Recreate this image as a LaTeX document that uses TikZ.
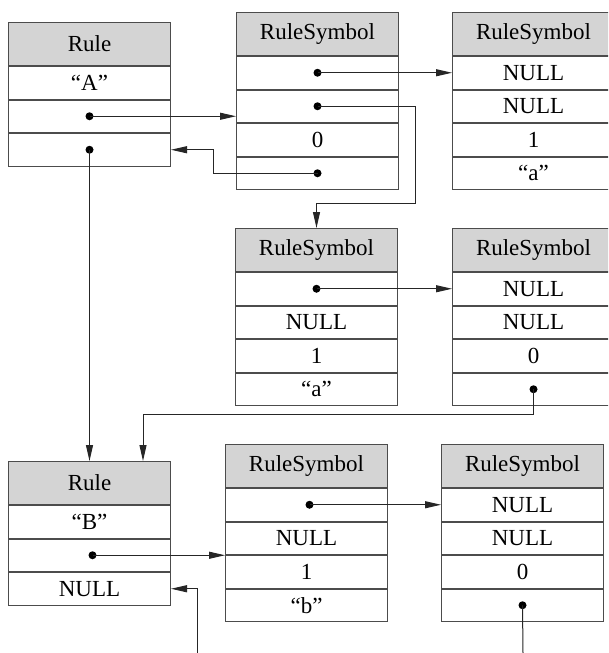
\documentclass[tikz,border=0pt]{standalone}
\usepackage{fontspec}
\setmainfont{Liberation Serif}
\usetikzlibrary{arrows.meta,calc}
\tikzset{
  cellbox/.style={draw=black!70, line width=1pt, minimum width=162pt, minimum height=32.5pt,
    inner sep=0pt, font=\fontsize{23}{25}\selectfont, anchor=north},
  hdrbox/.style={cellbox, fill=black!17, minimum height=43pt},
  dotn/.style={circle, fill=black, inner sep=0pt, minimum size=8pt},
  arr/.style={draw=black!85, line width=1pt, -{Triangle[length=16pt,width=7pt]}},
  wire/.style={draw=black!85, line width=1pt},
}
\newcommand\rulebx[7]{%
  \node[hdrbox, anchor=north west] (#1h) at (#2,#3) {#4};
  \node[cellbox] (#1a) at (#1h.south) {#5};
  \node[cellbox] (#1b) at (#1a.south) {#6};
  \node[cellbox] (#1c) at (#1b.south) {#7};
}
\newcommand\symbx[8]{%
  \node[hdrbox, anchor=north west] (#1h) at (#2,#3) {#4};
  \node[cellbox] (#1a) at (#1h.south) {#5};
  \node[cellbox] (#1b) at (#1a.south) {#6};
  \node[cellbox] (#1c) at (#1b.south) {#7};
  \node[cellbox] (#1d) at (#1c.south) {#8};
}
\begin{document}
\begin{tikzpicture}[x=1pt,y=-1pt]
\useasboundingbox (0,0) rectangle (608,653);
\clip (0,0) rectangle (608,653);
\fill[white] (0,0) rectangle (608,653);

\rulebx{RA}{8}{22}{Rule}{“A”}{}{}
\symbx{SA}{236}{12}{RuleSymbol}{}{}{0}{}
\symbx{SB}{452}{12}{RuleSymbol}{NULL}{NULL}{1}{“a”}
\symbx{SC}{235}{228}{RuleSymbol}{}{NULL}{1}{“a”}
\symbx{SD}{452}{228}{RuleSymbol}{NULL}{NULL}{0}{}
\rulebx{RB}{8}{461}{Rule}{“B”}{}{NULL}
\symbx{SE}{225}{444}{RuleSymbol}{}{NULL}{1}{“b”}
\symbx{SF}{441}{444}{RuleSymbol}{NULL}{NULL}{0}{}

% pointer dots
\node[dotn] (pRAb) at (RAb) {};
\node[dotn] (pRAc) at (RAc) {};
\node[dotn] (pSAa) at (SAa) {};
\node[dotn] (pSAb) at (SAb) {};
\node[dotn] (pSAd) at (SAd) {};
\node[dotn] (pSCa) at (SCa) {};
\node[dotn] (pSDd) at (SDd) {};
\node[dotn] (pRBb) at ($(RBb)+(3,0)$) {};
\node[dotn] (pSEa) at ($(SEa)+(3,0)$) {};
\node[dotn] (pSFd) at (SFd) {};

% bend points and free ends
\coordinate (k1) at (415,203);
\coordinate (k2) at ($(RAc.east)+(42,0)$);
\coordinate (k3) at (143,414);
\coordinate (e1) at (523,653);
\coordinate (e2) at (197,653);

% connectors
\draw[arr] (pRAb.center) -- (pRAb.center -| SAh.west);
\draw[arr] (pSAa.center) -- (SBa.west);
\draw[arr] (pSAb.center) -| (k1) -| (SCh.north);
\draw[arr] (pSAd.center) -| (k2) -- (RAc.east);
\draw[arr] (pRAc.center) -- (pRAc.center |- RBh.north);
\draw[arr] (pSCa.center) -- (SDa.west);
\draw[arr] (pSDd.center) |- (k3) -- (k3 |- RBh.north);
\draw[arr] (pRBb.center) -- (pRBb.center -| SEh.west);
\draw[arr] (pSEa.center) -- (SFa.west);
\draw[wire] (pSFd.center) -- (e1);
\draw[arr] (e2) |- (RBc.east);
\end{tikzpicture}
\end{document}
